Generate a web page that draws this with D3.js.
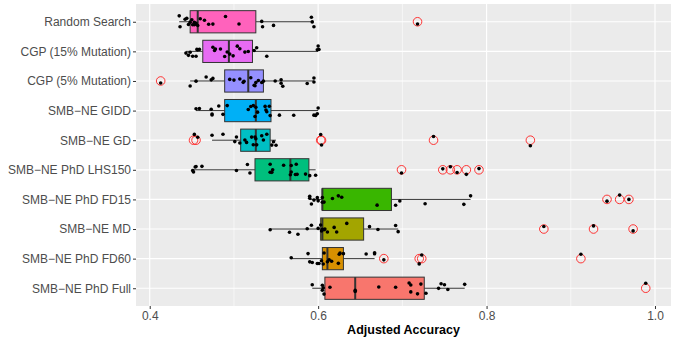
<!DOCTYPE html>
<html>
<head>
<meta charset="utf-8">
<script src="https://cdn.jsdelivr.net/npm/d3@7"></script>
<style>
  body { margin: 0; background: #fff; }
  text { font-family: "Liberation Sans", Arial, sans-serif; }
</style>
</head>
<body>
<svg id="chart" width="675" height="339"></svg>
<script>
// categories, top to bottom
var categories = ["Random Search", "CGP (15% Mutation)", "CGP (5% Mutation)", "SMB\u2212NE GIDD",
  "SMB\u2212NE GD", "SMB\u2212NE PhD LHS150", "SMB\u2212NE PhD FD15", "SMB\u2212NE MD",
  "SMB\u2212NE PhD FD60", "SMB\u2212NE PhD Full"];
var fills = ["#FF62BC", "#E76BF3", "#9590FF", "#00B0F6", "#00BFC4", "#00BF7D",
  "#39B600", "#A3A500", "#D89000", "#F8766D"];

// box stats
var whiskLo = [0.435, 0.443, 0.448, 0.455, 0.474, 0.450, 0.590, 0.543, 0.568, 0.593];
var q1      = [0.448, 0.463, 0.489, 0.489, 0.508, 0.525, 0.605, 0.603, 0.605, 0.608];
var median  = [0.457, 0.494, 0.517, 0.526, 0.526, 0.567, 0.605, 0.605, 0.611, 0.644];
var q3      = [0.526, 0.522, 0.535, 0.544, 0.543, 0.589, 0.687, 0.654, 0.630, 0.726];
var whiskHi = [0.594, 0.600, 0.595, 0.600, 0.550, 0.597, 0.781, 0.695, 0.667, 0.774];

var outliers = [
  [0.718],
  [],
  [0.413],
  [],
  [0.452, 0.455, 0.603, 0.604, 0.737, 0.852],
  [0.699, 0.748, 0.757, 0.765, 0.776, 0.791],
  [0.943, 0.958, 0.969],
  [0.868, 0.927, 0.974],
  [0.678, 0.720, 0.723, 0.912],
  [0.989]
];

// individual runs (jittered dots)
var runs = [
  [0.435, 0.436, 0.442, 0.444, 0.446, 0.448, 0.450, 0.451, 0.453, 0.453, 0.454, 0.455, 0.457,
   0.460, 0.465, 0.470, 0.475, 0.490, 0.506, 0.533, 0.534, 0.547, 0.592, 0.593, 0.595, 0.718],
  [0.443, 0.448, 0.451, 0.455, 0.457, 0.459, 0.446, 0.456, 0.475, 0.478, 0.477, 0.484, 0.489,
   0.492, 0.495, 0.499, 0.504, 0.507, 0.513, 0.517, 0.524, 0.527, 0.539, 0.600, 0.599, 0.601],
  [0.413, 0.448, 0.455, 0.467, 0.473, 0.475, 0.495, 0.500, 0.507, 0.512, 0.511, 0.520, 0.525,
   0.529, 0.524, 0.526, 0.533, 0.535, 0.549, 0.556, 0.558, 0.556, 0.587, 0.595, 0.595],
  [0.455, 0.459, 0.473, 0.474, 0.474, 0.482, 0.487, 0.492, 0.517, 0.520, 0.523, 0.525, 0.526,
   0.528, 0.537, 0.538, 0.539, 0.542, 0.543, 0.554, 0.571, 0.595, 0.597, 0.599, 0.600],
  [0.453, 0.457, 0.474, 0.487, 0.501, 0.503, 0.507, 0.513, 0.515, 0.521, 0.523, 0.525, 0.526,
   0.527, 0.533, 0.535, 0.539, 0.545, 0.547, 0.550, 0.603, 0.604, 0.737, 0.852],
  [0.451, 0.452, 0.454, 0.455, 0.462, 0.503, 0.516, 0.519, 0.543, 0.545, 0.546, 0.543, 0.559,
   0.567, 0.568, 0.568, 0.573, 0.574, 0.575, 0.585, 0.590, 0.597, 0.699, 0.748, 0.757, 0.765,
   0.776, 0.791],
  [0.590, 0.590, 0.592, 0.595, 0.599, 0.600, 0.605, 0.605, 0.607, 0.617, 0.624, 0.628, 0.670,
   0.692, 0.697, 0.727, 0.773, 0.781, 0.943, 0.958, 0.969],
  [0.543, 0.566, 0.576, 0.587, 0.592, 0.600, 0.603, 0.604, 0.605, 0.607, 0.608, 0.611, 0.619,
   0.622, 0.634, 0.661, 0.671, 0.692, 0.695, 0.868, 0.927, 0.974],
  [0.568, 0.588, 0.590, 0.593, 0.599, 0.601, 0.604, 0.606, 0.607, 0.611, 0.613, 0.616, 0.624,
   0.626, 0.625, 0.630, 0.657, 0.667, 0.667, 0.678, 0.720, 0.723, 0.912],
  [0.593, 0.605, 0.605, 0.606, 0.607, 0.614, 0.644, 0.644, 0.672, 0.692, 0.708, 0.710, 0.710,
   0.718, 0.722, 0.728, 0.743, 0.746, 0.750, 0.754, 0.774, 0.989]
];

var xTicks = [0.4, 0.6, 0.8, 1.0];
var xMinor = [0.5, 0.7, 0.9];

var svg = d3.select("#chart"),
    panel = {left: 136, right: 671, top: 4, bottom: 306};

var x = d3.scaleLinear()
  .domain([0.3837, 1.019])
  .range([panel.left, panel.right]);

var y = d3.scalePoint()
  .domain(categories)
  .range([panel.top, panel.bottom])
  .padding(0.6);

var step = y.step(),
    boxH = step * 0.75;

// panel background + grid
svg.append("rect")
  .attr("x", panel.left).attr("y", panel.top)
  .attr("width", panel.right - panel.left)
  .attr("height", panel.bottom - panel.top)
  .attr("fill", "#EBEBEB");

svg.append("g").selectAll("line")
  .data(xMinor).join("line")
  .attr("x1", x).attr("x2", x)
  .attr("y1", panel.top).attr("y2", panel.bottom)
  .attr("stroke", "#fff").attr("stroke-width", 0.6);

svg.append("g").selectAll("line")
  .data(xTicks).join("line")
  .attr("x1", x).attr("x2", x)
  .attr("y1", panel.top).attr("y2", panel.bottom)
  .attr("stroke", "#fff").attr("stroke-width", 1.2);

svg.append("g").selectAll("line")
  .data(categories).join("line")
  .attr("x1", panel.left).attr("x2", panel.right)
  .attr("y1", y).attr("y2", y)
  .attr("stroke", "#fff").attr("stroke-width", 1.2);

// boxes
var boxes = svg.append("g").selectAll("g")
  .data(categories).join("g")
  .attr("transform", function(d){ return "translate(0," + y(d) + ")"; });

boxes.append("line")
  .attr("x1", function(d,i){ return x(whiskLo[i]); })
  .attr("x2", function(d,i){ return x(q1[i]); })
  .attr("stroke", "#333").attr("stroke-width", 1);

boxes.append("line")
  .attr("x1", function(d,i){ return x(q3[i]); })
  .attr("x2", function(d,i){ return x(whiskHi[i]); })
  .attr("stroke", "#333").attr("stroke-width", 1);

boxes.append("rect")
  .attr("x", function(d,i){ return x(q1[i]); })
  .attr("width", function(d,i){ return x(q3[i]) - x(q1[i]); })
  .attr("y", -boxH / 2)
  .attr("height", boxH)
  .attr("fill", function(d,i){ return fills[i]; })
  .attr("stroke", "#333").attr("stroke-width", 1);

boxes.append("line")
  .attr("x1", function(d,i){ return x(median[i]); })
  .attr("x2", function(d,i){ return x(median[i]); })
  .attr("y1", -boxH / 2).attr("y2", boxH / 2)
  .attr("stroke", "#333").attr("stroke-width", 2);

boxes.selectAll("circle.out")
  .data(function(d,i){ return outliers[i]; })
  .join("circle")
  .attr("class", "out")
  .attr("cx", x).attr("cy", 0)
  .attr("r", 4.3)
  .attr("fill", "none")
  .attr("stroke", "#FF2020").attr("stroke-width", 0.9);

// jittered runs, seeded so the picture is repeatable
var seed = 7;
function jitter() {
  seed = (seed * 16807) % 2147483647;
  return (seed / 2147483647 - 0.5) * 0.4 * step;
}

boxes.selectAll("circle.run")
  .data(function(d,i){ return runs[i]; })
  .join("circle")
  .attr("class", "run")
  .attr("cx", x)
  .attr("cy", function(){ return jitter(); })
  .attr("r", 1.8)
  .attr("fill", "#000");

// axes
var yAxis = svg.append("g")
  .attr("transform", "translate(" + panel.left + ",0)")
  .call(d3.axisLeft(y).tickSize(3).tickPadding(2));
var xAxis = svg.append("g")
  .attr("transform", "translate(0," + panel.bottom + ")")
  .call(d3.axisBottom(x).tickValues(xTicks).tickFormat(d3.format(".1f")).tickSize(3).tickPadding(2));

[yAxis, xAxis].forEach(function(a){
  a.select(".domain").remove();
  a.selectAll(".tick line").attr("stroke", "#333");
  a.selectAll(".tick text")
    .attr("fill", "#4D4D4D")
    .style("font-size", "12px");
});

svg.append("text")
  .attr("x", (panel.left + panel.right) / 2)
  .attr("y", 334)
  .attr("text-anchor", "middle")
  .style("font-size", "12.5px")
  .style("font-weight", "bold")
  .text("Adjusted Accuracy");
</script>
</body>
</html>
